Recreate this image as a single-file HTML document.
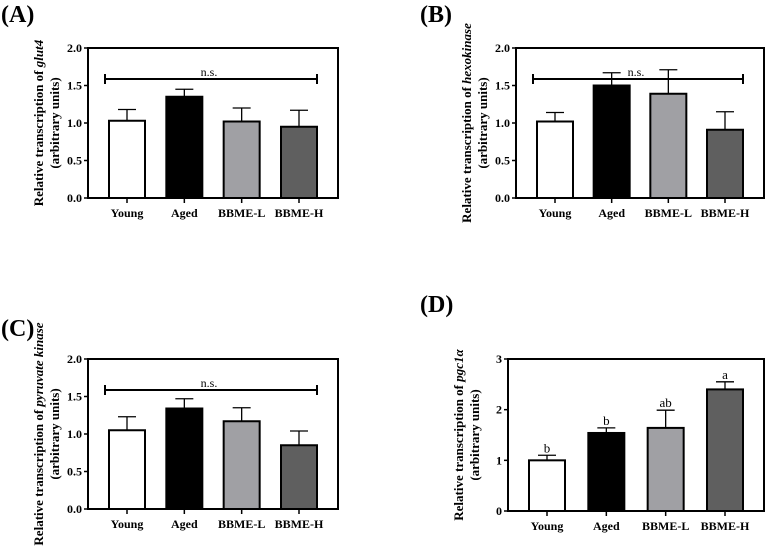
<!DOCTYPE html>
<html><head><meta charset="utf-8"><style>
body{margin:0;background:#fff}
svg, svg text, svg tspan{font-family:"Liberation Serif","Times New Roman","DejaVu Serif",serif !important;}
svg text{font-weight:bold}
</style></head><body>
<svg id="fig" width="767" height="548" viewBox="0 0 767 548" xmlns="http://www.w3.org/2000/svg" font-family="Liberation Serif, serif">
</svg>
<script>
const categories=["Young","Aged","BBME-L","BBME-H"];
const fills=["#ffffff","#000000","#a0a0a4","#5f5f5f"];
const valuesA=[1.03,1.35,1.02,0.95];
const errorsA=[0.15,0.10,0.18,0.22];
const valuesB=[1.02,1.50,1.39,0.91];
const errorsB=[0.12,0.17,0.32,0.24];
const valuesC=[1.05,1.34,1.17,0.85];
const errorsC=[0.18,0.13,0.18,0.19];
const valuesD=[1.00,1.54,1.64,2.40];
const errorsD=[0.10,0.10,0.35,0.15];
const lettersD=["b","b","ab","a"];
const ticks2=["0.0","0.5","1.0","1.5","2.0"];
const ticks3=["0","1","2","3"];
const svg=document.getElementById('fig');
const NS="http://www.w3.org/2000/svg";
function mk(tag,attrs,parent){const e=document.createElementNS(NS,tag);for(const k in attrs)e.setAttribute(k,attrs[k]);(parent||svg).appendChild(e);return e;}
function panel(id,letter,lx,ly,L,T,R,B,ymax,tickLabels,vals,errs,gene,ns,letters){
  const g=mk('g',{});
  
  
  const y=v=>B-(v/ymax)*(B-T);
  const sp=(R-L-78)/3;
  const x=i=>L+39+i*sp;
  const pl=mk('text',{x:lx,y:ly,'font-size':24},g);pl.textContent='('+letter+')';
  
  
  vals.forEach((v,i)=>{
    const bw=36;
    const ey=y(v+errs[i]);
    const el=mk('line',{x1:x(i),x2:x(i),y1:y(v),y2:ey,stroke:'#000','stroke-width':1.3},g);
    
    
    mk('line',{x1:x(i)-9,x2:x(i)+9,y1:ey,y2:ey,stroke:'#000','stroke-width':1.3},g);
    const r=mk('rect',{x:x(i)-bw/2,y:y(v),width:bw,height:B-y(v),fill:fills[i],stroke:'#000','stroke-width':2},g);
    
    
    if(letters){const t=mk('text',{x:x(i),y:ey-3,'text-anchor':'middle','font-size':13,style:'font-weight:normal'},g);t.textContent=letters[i];
      }
    mk('line',{x1:x(i),x2:x(i),y1:B,y2:B+5,stroke:'#000','stroke-width':1.5},g);
    const c=mk('text',{x:x(i),y:B+19,'text-anchor':'middle','font-size':12},g);c.textContent=categories[i];
    
  });
  const box=mk('rect',{x:L,y:T,width:R-L,height:B-T,fill:'none',stroke:'#000','stroke-width':2},g);
  
  tickLabels.forEach((lab,i)=>{
    const v=i*ymax/(tickLabels.length-1);
    mk('line',{x1:L-4,x2:L,y1:y(v),y2:y(v),stroke:'#000','stroke-width':1.5},g);
    const t=mk('text',{x:L-6,y:y(v)+4,'text-anchor':'end','font-size':12},g);t.textContent=lab;
    
  });
  if(ns){
    const ny=T+31;
    mk('line',{x1:L+17,x2:R-21,y1:ny,y2:ny,stroke:'#000','stroke-width':2},g);
    mk('line',{x1:L+17,x2:L+17,y1:ny-5,y2:ny+5,stroke:'#000','stroke-width':2},g);
    mk('line',{x1:R-21,x2:R-21,y1:ny-5,y2:ny+5,stroke:'#000','stroke-width':2},g);
    const t=mk('text',{x:(L+R)/2-4,y:ny-3,'text-anchor':'middle','font-size':12,style:'font-weight:normal'},g);t.textContent='n.s.';
    
  }
  const cy=(T+B)/2, tx=L-45;
  const t1=mk('text',{x:0,y:0,'text-anchor':'middle','font-size':13,transform:`translate(${tx},${cy}) rotate(-90)`},g);
  t1.innerHTML='Relative transcription of <tspan font-style="italic">'+gene+'</tspan>';
  
  const t2=mk('text',{x:0,y:0,'text-anchor':'middle','font-size':13,transform:`translate(${tx+16},${cy}) rotate(-90)`},g);
  t2.textContent='(arbitrary units)';
  
}
panel('a','A',1,22,88,48,338,198,2,ticks2,valuesA,errorsA,'glut4',true,null);
panel('b','B',420,22,516,48,764,198,2,ticks2,valuesB,errorsB,'hexokinase',true,null);
panel('c','C',1,336,88,359,338,509,2,ticks2,valuesC,errorsC,'pyruvate kinase',true,null);
panel('d','D',420,312,508,359,764,511,3,ticks3,valuesD,errorsD,'pgc1α',false,lettersD);
</script>
</body></html>
